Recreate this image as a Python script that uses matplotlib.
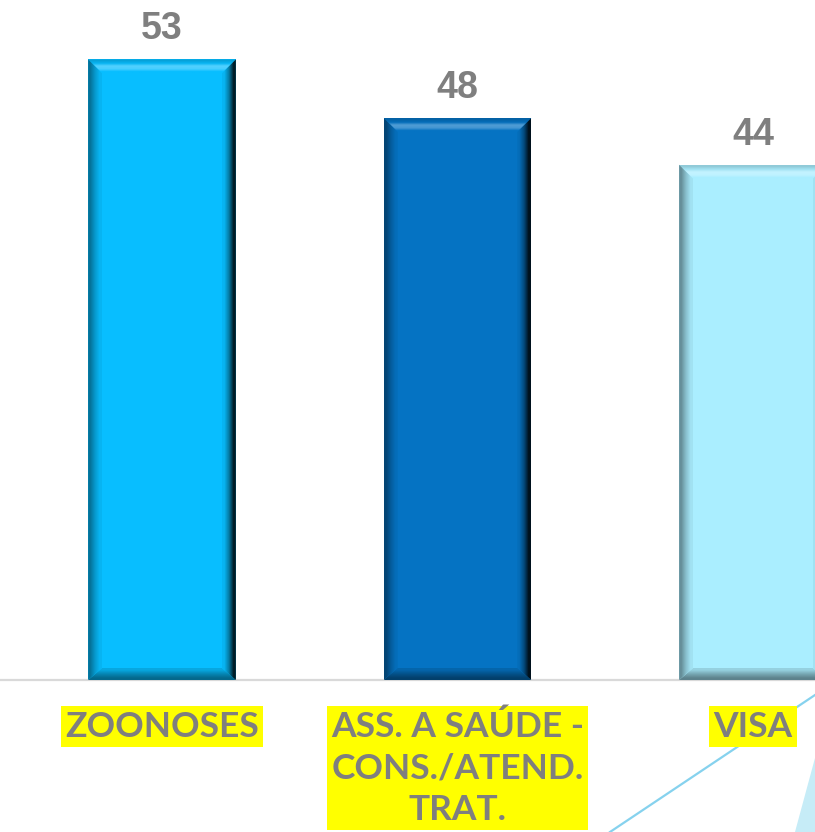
import numpy as np
import matplotlib.pyplot as plt
from matplotlib.patches import Polygon
from matplotlib.lines import Line2D
from matplotlib.colors import to_rgb

categories = ["ZOONOSES", "ASS. A SAÚDE -\nCONS./ATEND.\nTRAT.", "VISA"]
values = [53, 48, 44]
bar_colors = ["#08BEFF", "#0573C3", "#AAEEFF"]

label_grey = "#7f7f7f"


def mix(c, other, t):
    c = np.array(to_rgb(c))
    o = np.array(to_rgb(other))
    return tuple(c * (1 - t) + o * t)


def grad(ax, poly_pts, cols, extent, vertical=True):
    # gradient image clipped to a trapezoid
    cols = np.array([to_rgb(k) for k in cols])
    if vertical:
        img = cols[:, None, :]
    else:
        img = cols[None, :, :]
    poly = Polygon(poly_pts, closed=True, transform=ax.transData)
    im = ax.imshow(img, extent=extent, origin="lower", aspect="auto",
                   interpolation="bilinear", zorder=3)
    im.set_clip_path(poly)


fig = plt.figure(figsize=(8.15, 8.32), dpi=100)
fig.patch.set_facecolor("white")
ax = fig.add_axes([0, 152 / 832, 1, 680 / 832])
ax.patch.set_visible(False)

x = np.arange(len(values))
bars = ax.bar(x, values, width=0.5, color=bar_colors, zorder=2)

xlim = (-162 / 295.5, (815 - 162) / 295.5)
ylim = (0, 680 / 11.71)

bx = 14 / 295.5
by = 14 / 11.71
byb = 12 / 11.71

for b, c in zip(bars, bar_colors):
    x0 = b.get_x()
    x1 = x0 + b.get_width()
    y1 = b.get_height()
    # top bevel
    top_cols = [c, mix(c, "white", 0.25), mix(c, "white", 0.3), mix(c, "black", 0.05), mix(c, "black", 0.15)]
    grad(ax, [(x0, y1), (x1, y1), (x1 - bx, y1 - by), (x0 + bx, y1 - by)],
         top_cols, (x0, x1, y1 - by, y1), vertical=True)
    # bottom bevel
    bot_cols = [mix(c, "black", 0.45), mix(c, "black", 0.3), mix(c, "black", 0.12)]
    grad(ax, [(x0, 0), (x1, 0), (x1 - bx, byb), (x0 + bx, byb)],
         bot_cols, (x0, x1, 0, byb), vertical=True)
    # left bevel
    left_cols = [mix(c, "black", 0.4), mix(c, "black", 0.2), mix(c, "black", 0.05)]
    grad(ax, [(x0, 0), (x0, y1), (x0 + bx, y1 - by), (x0 + bx, byb)],
         left_cols, (x0, x0 + bx, 0, y1), vertical=False)
    # right bevel
    right_cols = [mix(c, "black", 0.05), mix(c, "black", 0.35), mix(c, "black", 0.85)]
    grad(ax, [(x1, 0), (x1, y1), (x1 - bx, y1 - by), (x1 - bx, byb)],
         right_cols, (x1 - bx, x1, 0, y1), vertical=False)

    ax.annotate(str(int(y1)), (b.get_x() + b.get_width() / 2, y1),
                xytext=(0, 14.5), textcoords="offset points",
                ha="center", va="baseline", fontsize=27, fontweight="bold",
                color=label_grey, family="Liberation Sans", zorder=5)

for xi, cat in zip(x, categories):
    ax.annotate(cat, (xi, 0), xytext=(0, -22), textcoords="offset points",
                ha="center", va="top", fontsize=25.5, fontweight="bold",
                color=label_grey, family="Lato", linespacing=1.36,
                annotation_clip=False, zorder=5,
                bbox=dict(boxstyle="square,pad=0.12", fc="#FFFF00", ec="none"))

ax.set_xlim(*xlim)
ax.set_ylim(*ylim)
ax.set_xticks([])
ax.set_yticks([])
for s in ["top", "left", "right"]:
    ax.spines[s].set_visible(False)
ax.spines["bottom"].set_color("#d9d9d9")
ax.spines["bottom"].set_linewidth(1.6)

# decorative shapes bottom right
fig.add_artist(Polygon([(795 / 815, 0), (1, (832 - 758) / 832), (1, 0)],
                       closed=True, transform=fig.transFigure,
                       fc="#c6ecf7", ec="none", zorder=-2))
fig.add_artist(Line2D([610 / 815, 1], [0, (832 - 695) / 832],
                      transform=fig.transFigure, color="#86d2ee", lw=1.6, zorder=-1))

fig.savefig("out.png", dpi=100, facecolor="white")
